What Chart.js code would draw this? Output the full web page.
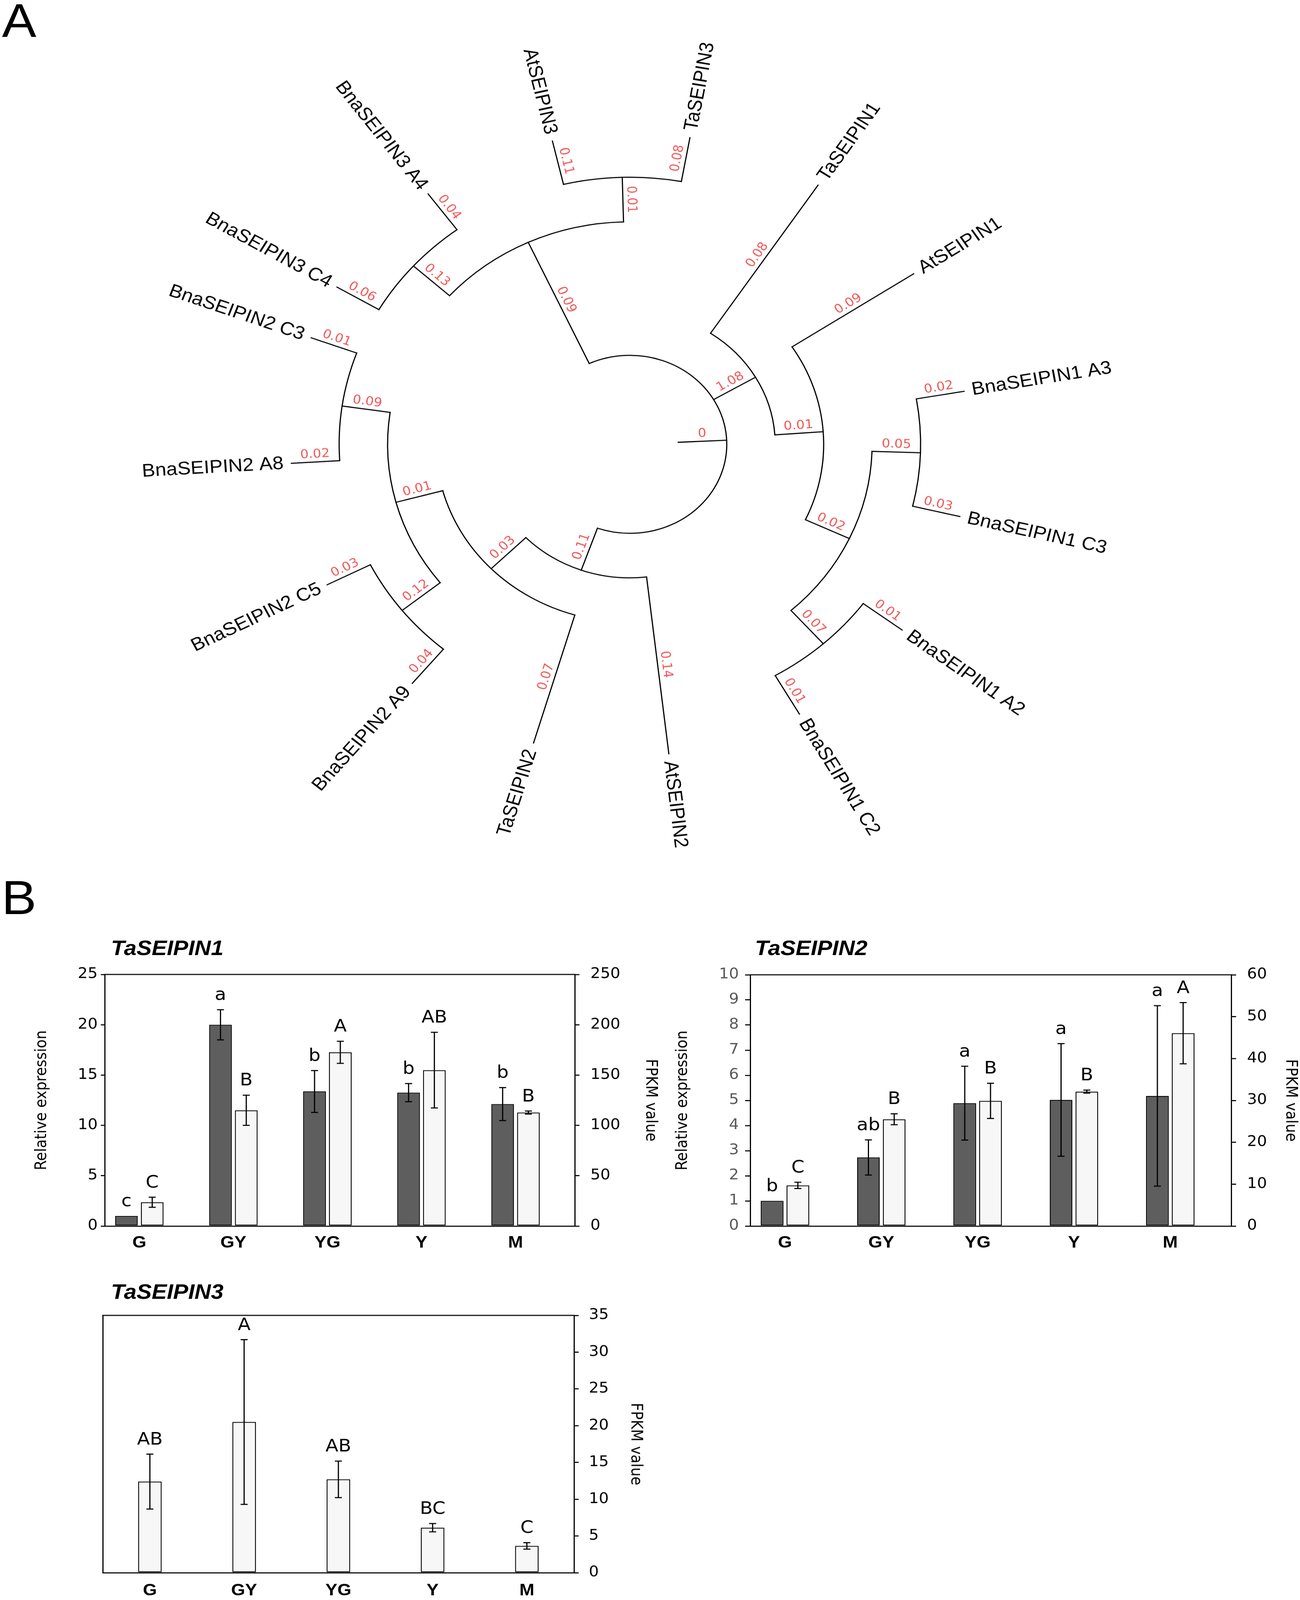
<!DOCTYPE html>
<html>
<head>
<meta charset="utf-8">
<title>SEIPIN tree and expression</title>
<script src="https://cdn.jsdelivr.net/npm/chart.js@4.4.1/dist/chart.umd.min.js"></script>
<style>
  html, body { margin: 0; padding: 0; background: #fff; overflow: hidden; }
  #page { position: absolute; left: 0; top: 0; width: 3327px; height: 4458px; transform-origin: 0 0; background: #fff; }
  .box { position: absolute; }
  .box canvas { display: block; }
  .panel { position: absolute; font-family: "Liberation Sans", Arial, sans-serif; line-height: 1; color: #000; }
  .gene { position: absolute; font: italic bold 58px "Liberation Sans", Arial, sans-serif; line-height: 1; color: #000; }
</style>
</head>
<body>
<div id="page">
<div class="box" style="left:0;top:0"><canvas id="tree" width="3327" height="2430"></canvas></div>
<div class="box" style="left:0;top:2663px"><canvas id="seipin1" width="1720" height="847"></canvas></div>
<div class="box" style="left:1720px;top:2664px"><canvas id="seipin2" width="1607" height="846"></canvas></div>
<div class="box" style="left:0;top:3615px"><canvas id="seipin3" width="1720" height="843"></canvas></div>

<div class="panel" style="left:5px;top:-9px;font-size:132px">A</div>
<div class="panel" style="left:4px;top:2434px;font-size:134px">B</div>
<div class="gene" style="left:284px;top:2612px">TaSEIPIN1</div>
<div class="gene" style="left:1932px;top:2612px">TaSEIPIN2</div>
<div class="gene" style="left:284px;top:3570px">TaSEIPIN3</div>
</div>

<script>
// ---- panel A: tree (topology + branch lengths as printed), leaf angles
var treeNewick = "(" +
  "((((BnaSEIPIN2 C3:0.01,BnaSEIPIN2 A8:0.02):0.09,(BnaSEIPIN2 C5:0.03,BnaSEIPIN2 A9:0.04):0.12):0.01,TaSEIPIN2:0.07):0.03,AtSEIPIN2:0.14):0.11," +
  "((((BnaSEIPIN1 C2:0.01,BnaSEIPIN1 A2:0.01):0.07,(BnaSEIPIN1 C3:0.03,BnaSEIPIN1 A3:0.02):0.05):0.02,AtSEIPIN1:0.09):0.01,TaSEIPIN1:0.08):1.08," +
  "((TaSEIPIN3:0.08,AtSEIPIN3:0.11):0.01,(BnaSEIPIN3 A4:0.04,BnaSEIPIN3 C4:0.06):0.13):0.09" +
  "):0;";
// degrees, counter-clockwise from east, in the order the leaves appear above
var leafAngles = [-200, -176.5, -153.2, -129.9, -106.5, -83.4, -60.0, -36.6, -13.4, 9.8, 33.2, 56.3, 79.8, 103.2, 126.5, 149.7];

// ---- panel B: expression data
var groups = ['G', 'GY', 'YG', 'Y', 'M'];

var seipin1Rel = [1.0, 20.0, 13.37, 13.26, 12.12];
var seipin1RelErr = [0, 1.5, 2.08, 0.9, 1.64];
var seipin1RelLetters = ['c', 'a', 'b', 'b', 'b'];
var seipin1Fpkm = [23.6, 115, 172.6, 154.9, 112.8];
var seipin1FpkmErr = [5, 15, 11, 37.6, 1.5];
var seipin1FpkmLetters = ['C', 'B', 'A', 'AB', 'B'];
var seipin1RelTicks = [0, 5, 10, 15, 20, 25];
var seipin1FpkmTicks = [0, 50, 100, 150, 200, 250];

var seipin2Rel = [1.0, 2.73, 4.89, 5.02, 5.18];
var seipin2RelErr = [0, 0.7, 1.47, 2.24, 3.59];
var seipin2RelLetters = ['b', 'ab', 'a', 'a', 'a'];
var seipin2Fpkm = [9.7, 25.5, 29.9, 32.1, 46.05];
var seipin2FpkmErr = [0.75, 1.3, 4.2, 0.36, 7.3];
var seipin2FpkmLetters = ['C', 'B', 'B', 'B', 'A'];
var seipin2RelTicks = [0, 1, 2, 3, 4, 5, 6, 7, 8, 9, 10];
var seipin2FpkmTicks = [0, 10, 20, 30, 40, 50, 60];

var seipin3Fpkm = [12.4, 20.5, 12.7, 6.13, 3.65];
var seipin3FpkmErr = [3.73, 11.2, 2.48, 0.56, 0.44];
var seipin3FpkmLetters = ['AB', 'A', 'AB', 'BC', 'C'];
var seipin3FpkmTicks = [0, 5, 10, 15, 20, 25, 30, 35];

Chart.defaults.font.family = "'DejaVu Sans', sans-serif";
Chart.defaults.color = '#000';

var DEG = Math.PI / 180;
var TIP_LEVEL = 7;

function parseNewick(s) {
    var i = 0;
    function node() {
        var n = {children: []};
        if (s[i] === '(') {
            i++;
            n.children.push(node());
            while (s[i] === ',') { i++; n.children.push(node()); }
            i++;
        }
        var name = '';
        while (i < s.length && ',):;'.indexOf(s[i]) < 0) name += s[i++];
        n.name = name.trim();
        if (s[i] === ':') {
            i++;
            var len = '';
            while (i < s.length && ',);'.indexOf(s[i]) < 0) len += s[i++];
            n.length = len.trim();
        }
        return n;
    }
    return node();
}

var tree = parseNewick(treeNewick);
var leafCount = 0;
var nodePoints = [];
function layout(n) {
    if (!n.children.length) {
        n.angle = leafAngles[leafCount++];
        n.height = 0;
    } else {
        n.children.forEach(layout);
        var a = n.children.map(function (c) { return c.angle; });
        n.a0 = Math.min.apply(null, a);
        n.a1 = Math.max.apply(null, a);
        n.angle = (n.a0 + n.a1) / 2;
        n.height = 1 + Math.max.apply(null, n.children.map(function (c) { return c.height; }));
    }
}
layout(tree);
(function collect(n) {
    var r = TIP_LEVEL - n.height;
    nodePoints.push({x: r * Math.cos(n.angle * DEG), y: r * Math.sin(n.angle * DEG)});
    n.children.forEach(collect);
})(tree);

function radialText(ctx, x, y, angle, text, start, baseline, dy) {
    var flip = Math.cos(angle * DEG) < 0;
    ctx.save();
    ctx.translate(x, y);
    ctx.rotate(-(angle + (flip ? 180 : 0)) * DEG);
    ctx.textAlign = start ? (flip ? 'right' : 'left') : 'center';
    ctx.textBaseline = baseline;
    ctx.fillText(text, 0, dy);
    ctx.restore();
}

var treePlugin = {
    id: 'tree',
    afterDatasetsDraw: function (chart) {
        var ctx = chart.ctx;
        var sx = chart.scales.x, sy = chart.scales.y;
        var cx = sx.getPixelForValue(0), cy = sy.getPixelForValue(0);
        var unit = sx.getPixelForValue(1) - cx;
        function pt(r, a) {
            return [sx.getPixelForValue(r * Math.cos(a * DEG)), sy.getPixelForValue(r * Math.sin(a * DEG))];
        }
        var labels = [];
        ctx.save();
        ctx.strokeStyle = '#000';
        ctx.lineWidth = 3;
        ctx.lineCap = 'square';
        function walk(n, parentR) {
            var r = TIP_LEVEL - n.height;
            var p0 = pt(parentR, n.angle), p1 = pt(r, n.angle);
            ctx.beginPath();
            ctx.moveTo(p0[0], p0[1]);
            ctx.lineTo(p1[0], p1[1]);
            ctx.stroke();
            if (n.children.length) {
                ctx.beginPath();
                ctx.arc(cx, cy, r * unit, -n.a0 * DEG, -n.a1 * DEG, true);
                ctx.stroke();
            }
            labels.push({p: pt((parentR + r) / 2, n.angle), angle: n.angle, text: n.length});
            n.children.forEach(function (c) { walk(c, r); });
        }
        walk(tree, TIP_LEVEL - tree.height - 1);

        // branch lengths
        ctx.fillStyle = '#f05a5a';
        ctx.font = "34px 'DejaVu Sans'";
        labels.forEach(function (l) {
            if (l.text) radialText(ctx, l.p[0], l.p[1], l.angle, l.text, false, 'bottom', -4);
        });

        // leaf names
        ctx.fillStyle = '#000';
        ctx.font = "51px 'Liberation Sans'";
        (function leaves(n) {
            if (!n.children.length) {
                var p = pt(TIP_LEVEL + 20 / unit, n.angle);
                radialText(ctx, p[0], p[1], n.angle, n.name, true, 'middle', 0);
            }
            n.children.forEach(leaves);
        })(tree);
        ctx.restore();
    }
};

var baseOptions = {
    responsive: false,
    animation: false,
    events: [],
    plugins: {legend: {display: false}, tooltip: {enabled: false}}
};

new Chart(document.getElementById('tree'), {
    type: 'scatter',
    data: {datasets: [{data: nodePoints, pointRadius: 0}]},
    options: Object.assign({}, baseOptions, {
        layout: {padding: 0},
        scales: {
            x: {type: 'linear', display: false, min: -13.0, max: 13.831},
            y: {type: 'linear', display: false, min: -9.613, max: 9.984}
        }
    }),
    plugins: [treePlugin]
});

// ---- bar charts
var annotPlugin = {
    id: 'annot',
    afterDatasetsDraw: function (chart) {
        var ctx = chart.ctx;
        ctx.save();
        ctx.strokeStyle = '#000';
        ctx.lineWidth = 3;
        ctx.fillStyle = '#000';
        ctx.font = "48px 'DejaVu Sans'";
        ctx.textAlign = 'center';
        ctx.textBaseline = 'alphabetic';
        chart.data.datasets.forEach(function (ds, di) {
            var meta = chart.getDatasetMeta(di);
            var ys = chart.scales[meta.yAxisID];
            meta.data.forEach(function (bar, i) {
                var v = meta.controller.getParsed(i).y;
                var e = ds.errors[i];
                var top = ys.getPixelForValue(v);
                if (e > 0) {
                    var hi = ys.getPixelForValue(v + e), lo = ys.getPixelForValue(v - e);
                    ctx.beginPath();
                    ctx.moveTo(bar.x, hi); ctx.lineTo(bar.x, lo);
                    ctx.moveTo(bar.x - 9, hi); ctx.lineTo(bar.x + 9, hi);
                    ctx.moveTo(bar.x - 9, lo); ctx.lineTo(bar.x + 9, lo);
                    ctx.stroke();
                    top = hi;
                }
                ctx.fillText(ds.letters[i], bar.x, top - 27);
            });
        });
        ctx.restore();
    }
};

var framePlugin = {
    id: 'frame',
    afterDraw: function (chart) {
        var ctx = chart.ctx, a = chart.chartArea;
        ctx.save();
        ctx.strokeStyle = '#000';
        ctx.lineWidth = 3;
        ctx.beginPath();
        ctx.moveTo(a.left - 1.5, a.top);
        ctx.lineTo(a.right + 1.5, a.top);
        ctx.stroke();
        ctx.restore();
    }
};

function yAxis(pos, ticks, o) {
    return {
        type: 'linear',
        position: pos,
        min: ticks[0],
        max: ticks[ticks.length - 1],
        afterBuildTicks: function (s) { s.ticks = ticks.map(function (v) { return {value: v}; }); },
        afterFit: function (s) { s.width = o.width; },
        border: {display: true, color: '#000', width: 3},
        grid: {display: true, drawOnChartArea: false, drawTicks: true, tickLength: o.tick, color: '#000', lineWidth: 3},
        ticks: {padding: o.pad, color: o.color || '#000', font: {size: 40}},
        title: {display: true, text: o.title, font: {size: 40}, padding: {top: o.titlePad, bottom: 0}}
    };
}

function xAxisLinear(range) {
    return {
        type: 'linear',
        offset: false,
        min: range[0],
        max: range[1],
        afterBuildTicks: function (s) { s.ticks = groups.map(function (g, i) { return {value: i}; }); },
        afterFit: function (s) { s.height = 94; },
        grid: {display: false, drawTicks: false},
        border: {display: true, color: '#000', width: 3},
        ticks: {
            callback: function (v) { return groups[v]; },
            padding: 20, autoSkip: false, maxRotation: 0,
            font: {family: "'Liberation Sans', Arial, sans-serif", size: 46, weight: 'bold'}
        }
    };
}

function barSet(values, errors, letters, axis, color, pct) {
    return {
        data: values.map(function (v, i) { return {x: i, y: v}; }),
        errors: errors,
        letters: letters,
        yAxisID: axis,
        backgroundColor: color,
        borderColor: '#000',
        borderWidth: 2.5,
        borderSkipped: false,
        categoryPercentage: pct[0],
        barPercentage: pct[1]
    };
}

new Chart(document.getElementById('seipin1'), {
    type: 'bar',
    data: {
        datasets: [
            barSet(seipin1Rel, seipin1RelErr, seipin1RelLetters, 'y', '#5e5e5e', [0.548, 0.88]),
            barSet(seipin1Fpkm, seipin1FpkmErr, seipin1FpkmLetters, 'y1', '#f7f7f7', [0.548, 0.88])
        ]
    },
    options: Object.assign({}, baseOptions, {
        layout: {padding: {top: 40, left: 0, right: 0, bottom: 0}},
        scales: {
            x: xAxisLinear([-0.368, 4.63]),
            y: yAxis('left', seipin1RelTicks, {width: 268, tick: 10, pad: 8, title: 'Relative expression', titlePad: 84}),
            y1: yAxis('right', seipin1FpkmTicks, {width: 249, tick: 12, pad: 28, title: 'FPKM value', titlePad: 32})
        }
    }),
    plugins: [annotPlugin, framePlugin]
});

new Chart(document.getElementById('seipin2'), {
    type: 'bar',
    data: {
        datasets: [
            barSet(seipin2Rel, seipin2RelErr, seipin2RelLetters, 'y', '#5e5e5e', [0.535, 0.88]),
            barSet(seipin2Fpkm, seipin2FpkmErr, seipin2FpkmLetters, 'y1', '#f7f7f7', [0.535, 0.88])
        ]
    },
    options: Object.assign({}, baseOptions, {
        layout: {padding: {top: 40, left: 0, right: 0, bottom: 0}},
        scales: {
            x: xAxisLinear([-0.361, 4.635]),
            y: yAxis('left', seipin2RelTicks, {width: 200, tick: 13, pad: 16, color: '#595959', title: 'Relative expression', titlePad: 4}),
            y1: yAxis('right', seipin2FpkmTicks, {width: 175.5, tick: 12, pad: 28, title: 'FPKM value', titlePad: 1})
        }
    }),
    plugins: [annotPlugin, framePlugin]
});

new Chart(document.getElementById('seipin3'), {
    type: 'bar',
    data: {
        labels: groups,
        datasets: [{
            data: seipin3Fpkm,
            errors: seipin3FpkmErr,
            letters: seipin3FpkmLetters,
            yAxisID: 'y1',
            backgroundColor: '#f7f7f7',
            borderColor: '#000',
            borderWidth: 2.5,
            borderSkipped: false,
            categoryPercentage: 0.5,
            barPercentage: 0.5
        }]
    },
    options: Object.assign({}, baseOptions, {
        layout: {padding: {top: 40.5, left: 0, right: 0, bottom: 0}},
        scales: {
            x: {
                type: 'category',
                offset: true,
                afterFit: function (s) { s.height = 76; },
                grid: {display: false, drawTicks: false},
                border: {display: true, color: '#000', width: 3},
                ticks: {padding: 23, font: {family: "'Liberation Sans', Arial, sans-serif", size: 46, weight: 'bold'}}
            },
            y: {
                type: 'linear',
                position: 'left',
                min: 0,
                max: 1,
                afterFit: function (s) { s.width = 263; },
                ticks: {display: false},
                grid: {display: false, drawTicks: false},
                border: {display: true, color: '#000', width: 3}
            },
            y1: yAxis('right', seipin3FpkmTicks, {width: 251, tick: 12, pad: 26, title: 'FPKM value', titlePad: 70})
        }
    }),
    plugins: [annotPlugin, framePlugin]
});

// the window can be shorter than the 4458 px figure: squeeze vertically so the whole figure is in view
var ky = Math.min(1, window.innerHeight / 4458);
document.getElementById('page').style.transform = 'scale(1,' + ky + ')';
document.body.style.height = window.innerHeight + 'px';
</script>
</body>
</html>
